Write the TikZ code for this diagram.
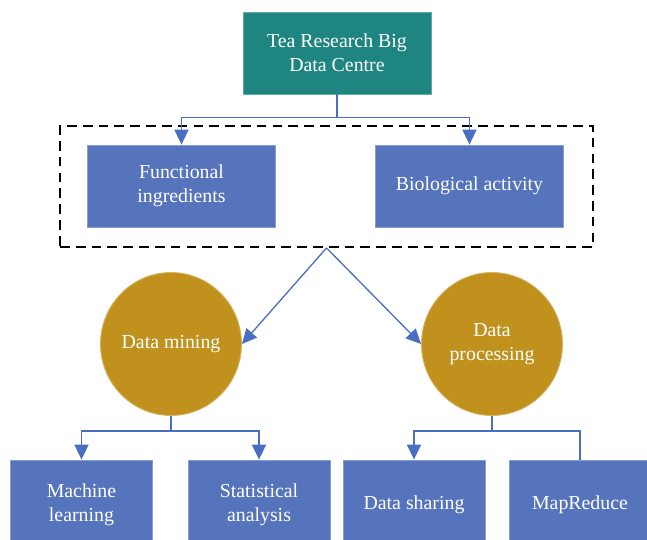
\documentclass[tikz,border=0pt]{standalone}
\usepackage{fontspec}
\setmainfont{Liberation Serif}
\usetikzlibrary{arrows.meta,shapes.geometric}
\definecolor{centregreen}{HTML}{1F8580}
\definecolor{boxblue}{HTML}{5574BB}
\definecolor{minegold}{HTML}{C1911E}
\definecolor{linkblue}{HTML}{4A6FC2}

\begin{document}
\begin{tikzpicture}[x=0.02cm,y=-0.02cm,
  txt/.style={text=white,align=center,inner sep=0pt,font=\fontsize{11.3}{13.6}\selectfont},
  hub/.style={txt,rectangle,fill=centregreen,draw=centregreen!70!white,line width=0.5pt,minimum width=3.76cm,minimum height=1.64cm},
  box/.style={txt,rectangle,fill=boxblue,draw=boxblue!70!white,line width=0.5pt,minimum width=3.76cm,minimum height=1.64cm},
  leaf/.style={box,minimum width=2.84cm,minimum height=1.8cm},
  topic/.style={txt,ellipse,fill=minegold,draw=minegold!70!white,line width=0.5pt,minimum width=2.82cm,minimum height=2.86cm},
  group/.style={rectangle,draw=black,line width=1.1pt,dash pattern=on 5.5pt off 3.5pt,minimum width=10.66cm,minimum height=2.42cm,inner sep=0pt},
  link/.style={draw=linkblue,line width=0.75pt,-{Triangle[width=8pt,length=8.5pt]}},
  joint/.style={draw=linkblue,line width=0.75pt}]
\useasboundingbox (0,0) rectangle (647,539);
\clip (0,0) rectangle (647,539);

\node[hub] (centre) at (337,53) {Tea Research Big\\Data Centre};
\node[group] (grp) at (326.5,186.5) {};
\node[box] (func) at (181.5,186) {Functional\\ingredients};
\node[box] (bio) at (469.5,186) {Biological activity};

\node[topic] (mine) at (171,344) {Data mining};
\node[topic] (proc) at (492,344) {Data\\processing};

\node[leaf] (ml) at (81.5,505) {Machine\\learning};
\node[leaf] (stat) at (259,505) {Statistical\\analysis};
\node[leaf] (share) at (414,505) {Data sharing};
\node[leaf] (mr) at (580,505) {MapReduce};

% elbow links from the centre
\path[link] (centre.south) -- ++(0,23) -| (func.north);
\path[link] (centre.south) -- ++(0,23) -| (bio.north);

\path[link] (grp.south) -- (mine.east);
\path[link] (grp.south) -- (proc.west);

\path[link] (mine.south) -- ++(0,15) -| (ml.north);
\path[link] (mine.south) -- ++(0,15) -| (stat.north);
\path[link] (proc.south) -- ++(0,15) -| (share.north);
\path[joint] (proc.south) -- ++(0,15) -| (mr.north);
\end{tikzpicture}
\end{document}
